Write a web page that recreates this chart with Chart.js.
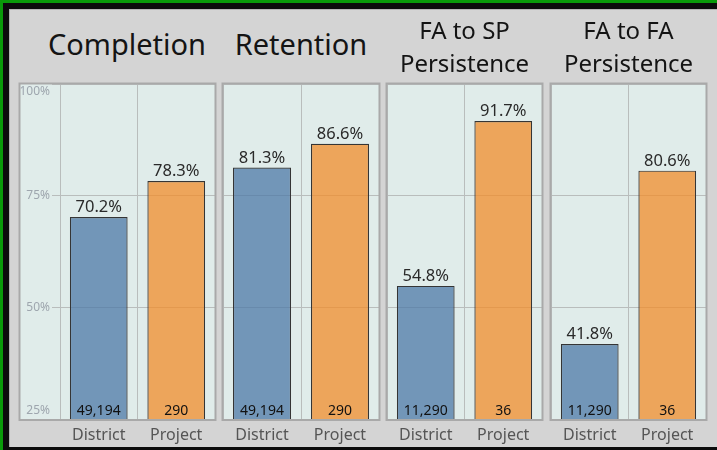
<!DOCTYPE html>
<html>
<head>
<meta charset="utf-8">
<title>Completion, Retention and Persistence</title>
<script src="https://cdn.jsdelivr.net/npm/chart.js@4.4.1/dist/chart.umd.min.js"></script>
<style>
    body { margin: 0; background: #d4d4d4; font-family: 'Noto Sans', sans-serif; }
    #page { position: relative; width: 717px; height: 450px; overflow: hidden; background: #d4d4d4; }
    .edge { position: absolute; }
    .title { position: absolute; text-align: center; color: #141414; white-space: nowrap; }
    .big { font-size: 29px; line-height: 36px; top: 26px; }
    .small { font-size: 24px; line-height: 33px; top: 13px; }
    .panel { position: absolute; top: 75px; }
</style>
</head>
<body>
<div id="page">
    <div class="edge" style="left:0;top:0;width:717px;height:3px;background:#0a9b0a"></div>
    <div class="edge" style="left:0;top:0;width:3px;height:450px;background:#0a9b0a"></div>
    <div class="edge" style="left:3px;top:3px;width:714px;height:6px;background:#0c0c0c"></div>
    <div class="edge" style="left:3px;top:3px;width:6px;height:447px;background:#0c0c0c"></div>
    <div class="edge" style="left:3px;top:447px;width:714px;height:3px;background:#0c0c0c"></div>
    <div class="edge" style="left:9px;top:9px;width:708px;height:1px;background:#b4b4b4"></div>
    <div class="edge" style="left:9px;top:9px;width:1px;height:438px;background:#b4b4b4"></div>
</div>
<script>
    // metric titles, one panel each
    const metrics = ['Completion', 'Retention', 'FA to SP\nPersistence', 'FA to FA\nPersistence']
    const groups = ['District', 'Project']
    // rates in percent
    const districtRates = [70.2, 81.3, 54.8, 41.8]
    const projectRates = [78.3, 86.6, 91.7, 80.6]
    // headcounts shown at the foot of each bar
    const districtCounts = [49194, 49194, 11290, 11290]
    const projectCounts = [290, 290, 36, 36]
    const yMin = 25
    const yMax = 100
    const yStep = 25

    // pane boxes in page pixels: left/right of plot area, title centre
    const panes = [
        { left: 60, right: 215, axis: 40, titleX: 127 },
        { left: 223, right: 379, axis: 0, titleX: 301 },
        { left: 387, right: 542, axis: 0, titleX: 464.5 },
        { left: 551, right: 706, axis: 0, titleX: 628.5 },
    ]

    const paneFill = '#e0ecea'
    const paneBorder = '#a9a9a9'
    const gridColor = '#b9bdbc'
    const barColors = ['rgba(78, 121, 167, 0.75)', 'rgba(242, 142, 43, 0.75)']

    Chart.defaults.font.family = "'Noto Sans', sans-serif"

    const paneFrame = {
        id: 'paneFrame',
        beforeDraw(chart) {
            const { ctx, chartArea } = chart
            const left = Math.min(chart.scales.y.left, chartArea.left)
            ctx.save()
            ctx.fillStyle = paneFill
            ctx.fillRect(left, chartArea.top, chartArea.right - left, chartArea.bottom - chartArea.top)
            ctx.restore()
        },
        afterDraw(chart) {
            const { ctx, chartArea } = chart
            const left = Math.min(chart.scales.y.left, chartArea.left)
            ctx.save()
            ctx.strokeStyle = paneBorder
            ctx.lineWidth = 2
            ctx.strokeRect(left - 0.5, chartArea.top - 0.5, chartArea.right - left + 1, chartArea.bottom - chartArea.top + 1.5)
            ctx.restore()
        },
    }

    const barLabels = {
        id: 'barLabels',
        afterDatasetsDraw(chart) {
            const { ctx, chartArea } = chart
            const dataset = chart.data.datasets[0]
            const meta = chart.getDatasetMeta(0)
            ctx.save()
            ctx.textAlign = 'center'
            ctx.textBaseline = 'alphabetic'
            meta.data.forEach((bar, i) => {
                ctx.fillStyle = '#2a2a2a'
                ctx.font = "16.5px 'Noto Sans', sans-serif"
                ctx.fillText(`${dataset.data[i].toFixed(1)}%`, bar.x, bar.y - 5)
                ctx.fillStyle = '#111111'
                ctx.font = "14px 'Noto Sans', sans-serif"
                ctx.fillText(dataset.counts[i].toLocaleString('en-US'), bar.x, chartArea.bottom - 4)
            })
            ctx.restore()
        },
    }

    const page = document.getElementById('page')

    metrics.forEach((metric, m) => {
        const pane = panes[m]

        let title = document.createElement('div')
        title.className = metric.includes('\n') ? 'title small' : 'title big'
        title.style.left = `${pane.titleX - 110}px`
        title.style.width = '220px'
        title.innerHTML = metric.split('\n').join('<br>')
        page.append(title)

        let holder = document.createElement('div')
        holder.className = 'panel'
        const canvasLeft = pane.left - pane.axis - 4
        const canvasWidth = pane.right + 4 - canvasLeft
        holder.style.left = `${canvasLeft}px`
        let canvas = document.createElement('canvas')
        canvas.width = canvasWidth
        canvas.height = 371
        canvas.style.width = `${canvasWidth}px`
        canvas.style.height = '371px'
        holder.append(canvas)
        page.append(holder)

        const showAxis = pane.axis > 0

        new Chart(canvas, {
            type: 'bar',
            data: {
                labels: groups,
                datasets: [{
                    data: [districtRates[m], projectRates[m]],
                    counts: [districtCounts[m], projectCounts[m]],
                    backgroundColor: barColors,
                    borderColor: '#353535',
                    borderWidth: 1.2,
                    categoryPercentage: 1,
                    barPercentage: 0.745,
                }],
            },
            options: {
                responsive: false,
                animation: false,
                devicePixelRatio: 1,
                layout: { padding: { top: 9, left: 4, right: 4, bottom: 0 } },
                plugins: {
                    legend: { display: false },
                    tooltip: { enabled: false },
                },
                scales: {
                    x: {
                        grid: { offset: true, color: gridColor, drawTicks: false },
                        border: { display: false },
                        ticks: { color: '#555555', font: { size: 16 }, padding: 7 },
                        afterFit(scale) {
                            scale.height = 27
                            scale.paddingLeft = 0
                            scale.paddingRight = 0
                        },
                    },
                    y: {
                        min: yMin,
                        max: yMax,
                        ticks: {
                            display: showAxis,
                            stepSize: yStep,
                            color: '#9ea6ae',
                            font: { size: 12, lineHeight: '16px' },
                            padding: 2,
                            callback(value) {
                                const text = `${value}%`
                                if (value === yMax) return ['', text]
                                if (value === yMin) return [text, '']
                                return text
                            },
                        },
                        grid: { color: gridColor, drawTicks: showAxis, tickLength: 8 },
                        border: { display: showAxis, color: gridColor },
                        afterFit(scale) {
                            scale.width = pane.axis
                            scale.paddingTop = 0
                            scale.paddingBottom = 0
                        },
                    },
                },
            },
            plugins: [paneFrame, barLabels],
        })
    })
</script>
</body>
</html>
